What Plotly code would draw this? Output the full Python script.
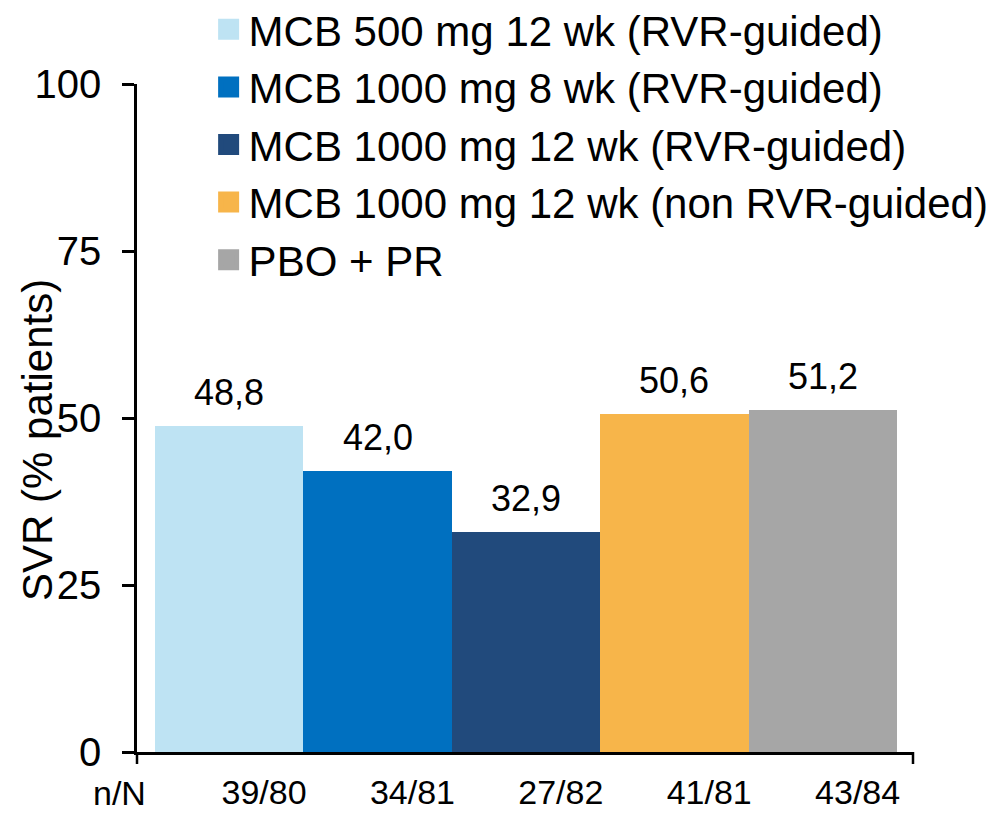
import plotly.graph_objects as go

# Treatment arms, SVR rates (% of patients) and responder counts
arms = [
    "MCB 500 mg 12 wk (RVR-guided)",
    "MCB 1000 mg 8 wk (RVR-guided)",
    "MCB 1000 mg 12 wk (RVR-guided)",
    "MCB 1000 mg 12 wk (non RVR-guided)",
    "PBO + PR",
]
svr = [48.8, 42.0, 32.9, 50.6, 51.2]
n_over_N = ["39/80", "34/81", "27/82", "41/81", "43/84"]
colors = ["#BEE3F3", "#0070C0", "#214A7C", "#F7B54A", "#A6A6A6"]
y_ticks = [0, 25, 50, 75, 100]

FONT = "Liberation Sans, Arial, sans-serif"
positions = list(range(len(arms)))
LABEL_SHIFT = 0.235  # n/N labels sit slightly right of each bar centre

fig = go.Figure()

# Adjacent bars, one per arm
fig.add_trace(go.Bar(
    x=positions,
    y=svr,
    width=1.0,
    marker=dict(color=colors, line=dict(width=0)),
    showlegend=False,
    hoverinfo="skip",
))

# Legend entries with large square swatches (no data points of their own)
for name, col in zip(arms, colors):
    fig.add_trace(go.Scatter(
        x=[None], y=[None],
        mode="markers",
        name=name,
        marker=dict(symbol="square", size=16, color=col,
                    line=dict(color=col, width=5)),
        showlegend=True,
        hoverinfo="skip",
    ))

# Value labels above bars (comma decimal separator)
for xp, v in zip(positions, svr):
    fig.add_annotation(
        x=xp, y=v, xref="x", yref="y",
        text=f"{v:.1f}".replace(".", ","),
        showarrow=False, yanchor="bottom", yshift=11,
        font=dict(family=FONT, size=36, color="black"),
    )

# Row header for the n/N tick labels
fig.add_annotation(
    x=-0.022, y=-0.061, xref="paper", yref="paper",
    text="n/N", showarrow=False, xanchor="center", yanchor="middle",
    font=dict(family=FONT, size=34, color="black"),
)

# Rotated y-axis title
fig.add_annotation(
    x=-0.129, y=0.467, xref="paper", yref="paper",
    text="SVR (% patients)", textangle=-90, showarrow=False,
    xanchor="center", yanchor="middle",
    font=dict(family=FONT, size=42, color="black"),
)

# Tick marks at both ends of the category axis
for xe in (0, 1):
    fig.add_shape(type="line", xref="paper", yref="paper",
                  x0=xe, x1=xe, y0=0, y1=-0.018,
                  line=dict(color="black", width=2.5))

fig.update_layout(
    width=1003, height=813, autosize=False,
    margin=dict(l=137, r=90, t=84, b=61, autoexpand=False),
    paper_bgcolor="white", plot_bgcolor="white",
    font=dict(family=FONT, color="black"),
    bargap=0,
    legend=dict(
        xref="container", yref="paper",
        x=0.208, y=1.1325, xanchor="left", yanchor="top",
        font=dict(family=FONT, size=42, color="black"),
        bgcolor="rgba(0,0,0,0)", borderwidth=0,
        itemclick=False, itemdoubleclick=False,
    ),
    xaxis=dict(
        type="linear",
        range=[-0.621, 4.608], autorange=False,
        tickmode="array",
        tickvals=[p + LABEL_SHIFT for p in positions], ticktext=n_over_N,
        ticks="", showgrid=False, zeroline=False,
        showline=True, linecolor="black", linewidth=2.5,
        tickfont=dict(family=FONT, size=34, color="black"),
        ticklabelstandoff=8,
        automargin=False,
    ),
    yaxis=dict(
        type="linear",
        range=[0, 100], autorange=False,
        tickmode="array", tickvals=y_ticks,
        ticks="outside", ticklen=12, tickwidth=2.5, tickcolor="black",
        showgrid=False, zeroline=False,
        showline=True, linecolor="black", linewidth=2.5,
        tickfont=dict(family=FONT, size=40, color="black"),
        ticklabelstandoff=13,
        automargin=False,
    ),
)

fig.write_html("out.html")
